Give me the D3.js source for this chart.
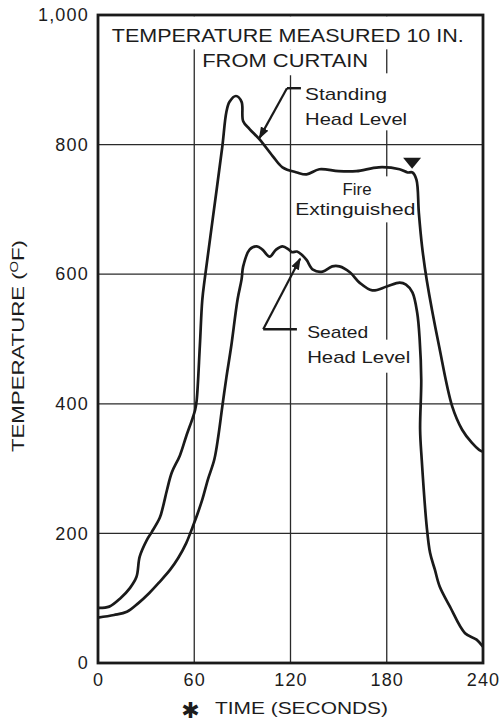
<!DOCTYPE html>
<html><head><meta charset="utf-8">
<script src="https://cdn.jsdelivr.net/npm/d3@7"></script>
<style>
html,body{margin:0;padding:0;background:#fff;}
svg{display:block;}
text{font-family:"Liberation Sans",Arial,Helvetica,sans-serif;fill:#1c1c1c;}
</style></head>
<body>
<svg id="chart" width="504" height="723"></svg>
<script>
// ---- data ----
const xTicks = [0, 60, 120, 180, 240];
const yTicks = [0, 200, 400, 600, 800, 1000];
const xTickLabels = ["0", "60", "120", "180", "240"];
const yTickLabels = ["0", "200", "400", "600", "800", "1,000"];

const standingTime = [0,7,14,20,24,26,30.5,33.5,38.5,40.5,43,46,51,55,59,60.5,61.5,63.5,65,66.5,71.5,77.5,80,82,86,89.5,90.5,94.5,100.7,109,115,124,130,138,150,161,175,188,193,196,198.5,200,202,205,212.7,220.8,227,233,237.6,240];
const standingTemp = [85,87,100,116,133,164,190,202,224,241,267,294,320,350,378,390,405,490,560,592,685,797,850,866,875,866,836,824,808,782,765,757,754,762,759,759,765,762,757,757,746,695,643,590,488,396,360,340,329,326];

const seatedTime = [0,10,18,25,32,38,45,50,55,59,62,65,68.5,72.5,75,77.5,80,83,87,89.5,90.5,94.5,99,102.5,107,111,115,119,121,124,127,130,134,140,146,150.5,157,163,171,180,188,192,196,199,200.5,201.5,200.8,201.8,204.9,207,210,213,219.4,228.8,236,240];
const seatedTemp = [70,74,79,92,108,124,144,162,185,210,230,252,283,314,350,396,440,488,561,592,612,638,643,638,627,638,643,638,634,635,630,622,607,604,612,612,603,587,575,581,587,584,572,540,500,437,360,314,211,170,144,118,87,46,36,25];

const titleLines = ["TEMPERATURE MEASURED 10 IN.", "FROM CURTAIN"];
const xTitle = "TIME (SECONDS)";
const yTitle = "TEMPERATURE (";
const standingLabel = ["Standing", "Head Level"];
const seatedLabel = ["Seated", "Head Level"];
const fireLabel = ["Fire", "Extinguished"];
const fireTime = 195.8, fireTemp = 761;

// ---- layout ----
const svg = d3.select("#chart");
const x = d3.scaleLinear().domain([0, 240]).range([98, 483]);
const y = d3.scaleLinear().domain([0, 1000]).range([663, 15]);
const ink = "#1a1a1a";

// gridlines
const grid = svg.append("g");
grid.selectAll("line.vx").data(xTicks.slice(1, -1)).join("line")
  .attr("x1", d => x(d)).attr("x2", d => x(d)).attr("y1", y(1000)).attr("y2", y(0))
  .attr("stroke", "#2a2a2a").attr("stroke-width", 1.3);
grid.selectAll("line.hy").data(yTicks.slice(1, -1)).join("line")
  .attr("x1", x(0)).attr("x2", x(240)).attr("y1", d => y(d)).attr("y2", d => y(d))
  .attr("stroke", "#2a2a2a").attr("stroke-width", 1.3);

// white backgrounds that interrupt the grid behind labels
const bg = svg.append("g").attr("fill", "#fff");
function bgRect(t0, t1, v0, v1) {
  bg.append("rect").attr("x", x(t0)).attr("y", y(v1))
    .attr("width", x(t1) - x(t0)).attr("height", y(v0) - y(v1));
}
bgRect(1, 239, 947, 998);     // title line 1
bgRect(61, 171, 907, 947);    // title line 2
bgRect(126, 195, 822, 910);   // Standing Head Level
bgRect(121, 199.5, 680, 751); // Fire Extinguished
bgRect(127, 170, 500, 532);   // Seated
bgRect(127, 197, 448, 499);   // Head Level (seated)

// frame
svg.append("rect").attr("x", x(0)).attr("y", y(1000))
  .attr("width", x(240) - x(0)).attr("height", y(0) - y(1000))
  .attr("fill", "none").attr("stroke", ink).attr("stroke-width", 2.8);

// axes tick labels
const yAxis = d3.axisLeft(y).tickValues(yTicks).tickSize(0).tickPadding(9)
  .tickFormat((d, i) => yTickLabels[i]);
const gy = svg.append("g").attr("transform", `translate(${x(0)},0)`).call(yAxis);
gy.select(".domain").remove();
gy.selectAll("text").attr("font-size", 18).attr("letter-spacing", 1.2)
  .style("font-family", '"Liberation Sans",Arial,sans-serif').attr("fill", ink);

const xAxis = d3.axisBottom(x).tickValues(xTicks).tickSize(0).tickPadding(10)
  .tickFormat((d, i) => xTickLabels[i]);
const gx = svg.append("g").attr("transform", `translate(0,${y(0)})`).call(xAxis);
gx.select(".domain").remove();
gx.selectAll("text").attr("font-size", 18).attr("letter-spacing", 1.2)
  .style("font-family", '"Liberation Sans",Arial,sans-serif').attr("fill", ink);

// curves
const line = d3.line().x(d => x(d[0])).y(d => y(d[1])).curve(d3.curveCatmullRom.alpha(0.5));
svg.append("path").datum(d3.zip(standingTime, standingTemp)).attr("d", line)
  .attr("fill", "none").attr("stroke", ink).attr("stroke-width", 2.7).attr("stroke-linejoin", "round");
svg.append("path").datum(d3.zip(seatedTime, seatedTemp)).attr("d", line)
  .attr("fill", "none").attr("stroke", ink).attr("stroke-width", 2.7).attr("stroke-linejoin", "round");

// fire extinguished marker
svg.append("path")
  .attr("d", `M${x(fireTime)},${y(fireTemp) - 1} L${x(fireTime) - 9},${y(fireTemp) - 12} L${x(fireTime) + 9},${y(fireTemp) - 12} Z`)
  .attr("fill", ink);

// arrowheads
const defs = svg.append("defs");
defs.append("marker").attr("id", "ah").attr("viewBox", "0 0 10 10").attr("refX", 9).attr("refY", 5)
  .attr("markerWidth", 5.5).attr("markerHeight", 5.5).attr("orient", "auto")
  .attr("markerUnits", "strokeWidth")
  .append("path").attr("d", "M0,1.5 L10,5 L0,8.5 Z").attr("fill", ink);

// standing arrow
svg.append("line").attr("x1", x(126.5)).attr("y1", y(887)).attr("x2", x(117.8)).attr("y2", y(887))
  .attr("stroke", ink).attr("stroke-width", 2.4);
svg.append("line").attr("x1", x(117.8)).attr("y1", y(887)).attr("x2", x(100.6)).attr("y2", y(810))
  .attr("stroke", ink).attr("stroke-width", 2.2).attr("marker-end", "url(#ah)");
// seated arrow
svg.append("line").attr("x1", x(124)).attr("y1", y(515)).attr("x2", x(103)).attr("y2", y(515))
  .attr("stroke", ink).attr("stroke-width", 2.4);
svg.append("line").attr("x1", x(103)).attr("y1", y(515)).attr("x2", x(126)).attr("y2", y(624))
  .attr("stroke", ink).attr("stroke-width", 2.2).attr("marker-end", "url(#ah)");

// text helper
function label(str, t, v, size, len, anchor) {
  return svg.append("text").attr("x", x(t)).attr("y", y(v)).attr("font-size", size)
    .attr("text-anchor", anchor || "start").attr("textLength", len)
    .attr("lengthAdjust", "spacingAndGlyphs").text(str);
}
label(titleLines[0], 118.3, 959, 17.5, 352, "middle");
label(titleLines[1], 116.7, 920.5, 17.5, 166, "middle");
label(standingLabel[0], 129.1, 869, 17, 82);
label(standingLabel[1], 129.1, 830, 17, 102);
label(fireLabel[0], 161.5, 722, 17, 29, "middle");
label(fireLabel[1], 160.4, 691, 17, 120, "middle");
label(seatedLabel[0], 130.4, 502, 17, 61);
label(seatedLabel[1], 130.4, 463, 17, 103);

// x axis title
svg.append("text").attr("x", 190.5).attr("y", 710).attr("font-size", 22)
  .attr("text-anchor", "middle").attr("dominant-baseline", "central")
  .style("font-family", '"DejaVu Sans",sans-serif').text("\u2731");
svg.append("text").attr("x", 301.5).attr("y", 713.5).attr("font-size", 16.5)
  .attr("text-anchor", "middle").attr("textLength", 173).attr("lengthAdjust", "spacingAndGlyphs").text(xTitle);

// y axis title
const yt = svg.append("text").attr("transform", "translate(24,346) rotate(-90)")
  .attr("font-size", 16.5).attr("text-anchor", "middle").attr("textLength", 212).attr("lengthAdjust", "spacingAndGlyphs");
yt.append("tspan").text(yTitle);
yt.append("tspan").attr("font-size", 11).attr("dy", -6).text("O");
yt.append("tspan").attr("dy", 6).text("F)");
</script>
</body></html>
